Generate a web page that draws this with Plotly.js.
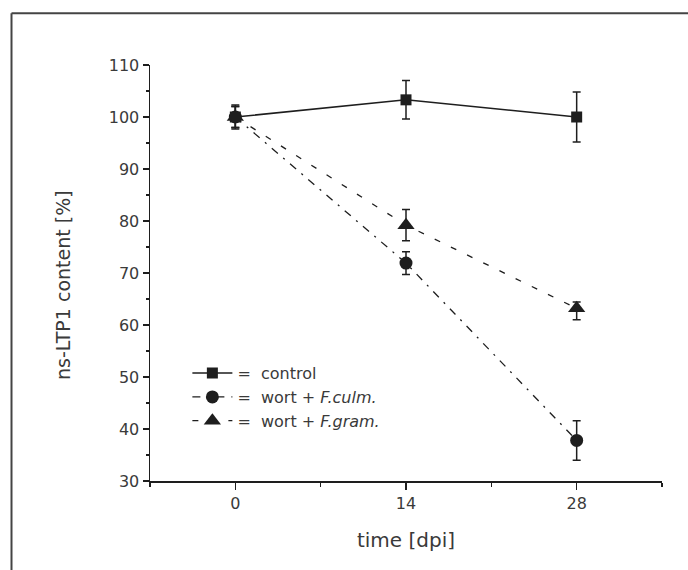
<!DOCTYPE html>
<html>
<head>
<meta charset="utf-8">
<script src="https://cdn.plot.ly/plotly-3.0.1.min.js"></script>
<style>
html,body{margin:0;padding:0;background:#fff;}
#chart{width:688px;height:570px;}
</style>
</head>
<body>
<div id="chart"></div>
<script>
// ---- data ----
const days = [0, 14, 28];

const controlValues = [100, 103.3, 100.0];
const controlErr    = [2.3, 3.7, 4.8];

const culmValues = [100, 71.9, 37.8];
const culmErr    = [2.0, 2.2, 3.8];

const gramValues   = [100, 79.2, 63.2];
const gramErrPlus  = [2.0, 3.0, 1.2];
const gramErrMinus = [2.0, 3.0, 2.2];

const seriesNames = ['=\u00a0 control', '=\u00a0 wort + <i>F.culm.</i>', '=\u00a0 wort + <i>F.gram.</i>'];
const xTickVals = [0, 14, 28];
const xTickText = ['0', '14', '28'];
const yTitle = 'ns-LTP1 content [%]';
const xTitle = 'time [dpi]';

const FONT = 'DejaVu Sans, Liberation Sans, Arial, sans-serif';
const INK = '#1e1e1e';
const TXT = '#3a3a3a';

function errStyle(plus, minus) {
  const e = {type: 'data', array: plus, visible: true, color: INK, thickness: 1.5, width: 4};
  if (minus) { e.symmetric = false; e.arrayminus = minus; }
  return e;
}

const traces = [
  {
    x: days, y: gramValues, name: seriesNames[2], type: 'scatter', mode: 'lines+markers',
    line: {color: INK, width: 1.3, dash: '6px,12px'},
    marker: {symbol: 'triangle-up', size: 15, color: INK},
    error_y: errStyle(gramErrPlus, gramErrMinus), legendrank: 3
  },
  {
    x: days, y: culmValues, name: seriesNames[1], type: 'scatter', mode: 'lines+markers',
    line: {color: INK, width: 1.3, dash: '8px,7px,2px,7px'},
    marker: {symbol: 'circle', size: 13, color: INK},
    error_y: errStyle(culmErr), legendrank: 2
  },
  {
    x: days, y: controlValues, name: seriesNames[0], type: 'scatter', mode: 'lines+markers',
    line: {color: INK, width: 1.5},
    marker: {symbol: 'square', size: 11, color: INK},
    error_y: errStyle(controlErr), legendrank: 1
  }
];

const layout = {
  width: 688, height: 570,
  margin: {l: 150, r: 26, t: 65, b: 89},
  paper_bgcolor: '#fff', plot_bgcolor: '#fff',
  font: {family: FONT, color: TXT, size: 15},
  showlegend: true,
  legend: {
    x: 0.073, y: 0.300, xanchor: 'left', yanchor: 'top',
    bgcolor: 'rgba(0,0,0,0)', borderwidth: 0,
    font: {family: FONT, size: 16, color: TXT},
    traceorder: 'normal', itemwidth: 40
  },
  xaxis: {
    range: [-7, 35], showgrid: false, zeroline: false,
    showline: true, linecolor: INK, linewidth: 1.5,
    ticks: 'outside', ticklen: 7, tickwidth: 1.3, tickcolor: INK,
    tickvals: xTickVals, ticktext: xTickText,
    tickfont: {family: FONT, size: 16, color: TXT},
    minor: {dtick: 7, tick0: 0, ticks: 'outside', ticklen: 4, tickwidth: 1.3, tickcolor: INK},
    title: {text: xTitle, font: {family: FONT, size: 20, color: TXT}, standoff: 21}
  },
  yaxis: {
    range: [30, 110], showgrid: false, zeroline: false,
    showline: true, linecolor: INK, linewidth: 1.5,
    ticks: 'outside', ticklen: 6, tickwidth: 1.3, tickcolor: INK,
    tick0: 30, dtick: 10,
    tickfont: {family: FONT, size: 16, color: TXT},
    minor: {dtick: 5, tick0: 30, ticks: 'outside', ticklen: 3, tickwidth: 1.3, tickcolor: INK}
  },
  annotations: [
    {text: yTitle, xref: 'paper', yref: 'paper', x: -0.17, y: 0.471,
     xanchor: 'center', yanchor: 'middle', textangle: -90, showarrow: false,
     font: {family: FONT, size: 19, color: TXT}}
  ],
  shapes: [
    {type: 'line', xref: 'paper', yref: 'paper', x0: -0.2705, x1: 1.08, y0: 1.1243, y1: 1.1243,
     line: {color: '#444', width: 2}},
    {type: 'line', xref: 'paper', yref: 'paper', x0: -0.2705, x1: -0.2705, y0: 1.1243, y1: -0.25,
     line: {color: '#444', width: 2}}
  ]
};

Plotly.newPlot('chart', traces, layout, {displayModeBar: false, staticPlot: true});
</script>
</body>
</html>
